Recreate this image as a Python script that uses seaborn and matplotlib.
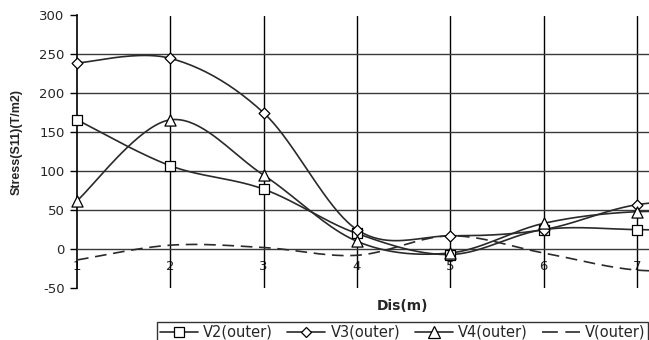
import numpy as np
import pandas as pd
import matplotlib
matplotlib.use("Agg")
import matplotlib.pyplot as plt
from matplotlib.lines import Line2D
import seaborn as sns

# Distance categories and stress series (T/m2)
dis = [1, 2, 3, 4, 5, 6, 7, 8]
v2_outer = [166, 107, 77, 20, -7, 25, 25, 22]
v3_outer = [239, 245, 175, 25, 17, 25, 57, 62]
v4_outer = [62, 166, 95, 10, -5, 33, 48, 44]
v_outer = [-14, 5, 2, -8, 17, -5, -27, -25]
series_names = ["V2(outer)", "V3(outer)", "V4(outer)", "V(outer)"]
y_ticks = [-50, 0, 50, 100, 150, 200, 250, 300]


def smooth_curve(xs, ys, n=40):
    """Catmull-Rom style Bezier smoothing (spreadsheet 'smoothed line')."""
    pts = np.column_stack([xs, ys]).astype(float)
    out = []
    m = len(pts)
    t = np.linspace(0, 1, n)[:, None]
    for i in range(m - 1):
        p0 = pts[max(i - 1, 0)]
        p1 = pts[i]
        p2 = pts[i + 1]
        p3 = pts[min(i + 2, m - 1)]
        c1 = p1 + (p2 - p0) / 6.0
        c2 = p2 - (p3 - p1) / 6.0
        seg = ((1 - t) ** 3) * p1 + 3 * ((1 - t) ** 2) * t * c1 \
            + 3 * (1 - t) * t ** 2 * c2 + t ** 3 * p2
        out.append(seg if i == 0 else seg[1:])
    arr = np.vstack(out)
    return arr[:, 0], arr[:, 1]


sns.set_style("white")
plt.rcParams["font.family"] = ["DejaVu Sans"]

fig = plt.figure(figsize=(6.49, 3.40), dpi=100)
ax = fig.add_axes([77 / 649, 52 / 340, 1 - 77 / 649, (340 - 15.5) / 340 - 52 / 340])

line_col = "#2a2a2a"
dash = (0, (7, 4))
styles = [
    (v2_outer, "s", 7.5, "-"),
    (v3_outer, "D", 5.5, "-"),
    (v4_outer, "^", 8, "-"),
    (v_outer, None, 0, dash),
]

for (vals, mk, ms, ls), name in zip(styles, series_names):
    sx, sy = smooth_curve(dis, vals)
    curve = pd.DataFrame({"x": sx, "y": sy})
    sns.lineplot(data=curve, x="x", y="y", ax=ax, sort=False, estimator=None,
                 color=line_col, linewidth=1.2, linestyle=ls, zorder=3)
    if mk is not None:
        pts = pd.DataFrame({"x": dis, "y": vals})
        sns.scatterplot(data=pts, x="x", y="y", ax=ax, marker=mk,
                        s=ms ** 2, color="white", edgecolor="black",
                        linewidth=0.9, zorder=4, clip_on=False)

ax.set_yticks(y_ticks)
ax.set_yticklabels([str(v) for v in y_ticks])
ax.set_xticks(dis)
ax.set_xticklabels([str(d) for d in dis])
ax.set_xlim(1, 7.13)
ax.set_ylim(-50, 300)

# Gridlines
for xv in dis[1:]:
    ax.axvline(xv, color="black", linewidth=1.0, zorder=1)
for yv in y_ticks[2:-1]:
    ax.axhline(yv, color="#3a3a3a", linewidth=1.0, zorder=1)
ax.axhline(300, color="#8a8a8a", linewidth=1.2, zorder=1)

# Axes: category axis crosses at zero
for s in ["top", "right"]:
    ax.spines[s].set_visible(False)
ax.spines["bottom"].set_position(("data", 0))
ax.spines["bottom"].set_color("#3a3a3a")
ax.spines["bottom"].set_linewidth(1.0)
ax.spines["left"].set_color("black")
ax.spines["left"].set_linewidth(1.2)
ax.tick_params(axis="y", direction="out", length=5, width=1, color="black",
               pad=4, labelsize=9.5, left=True)
ax.tick_params(axis="x", length=0, pad=8, labelsize=9.5)

ax.set_xlabel("")
ax.set_ylabel("")
fig.text(17 / 649, 1 - 142 / 340, "Stress(S11)(T/m2)", rotation=90,
         ha="center", va="center", fontsize=9, fontweight="bold",
         family=["Liberation Sans", "DejaVu Sans"])
fig.text(403 / 649, 1 - 306 / 340, "Dis(m)", ha="center", va="center",
         fontsize=10, fontweight="bold")

handles = [
    Line2D([], [], color=line_col, lw=1.2, marker="s", ms=7.5,
           mfc="white", mec="black", mew=0.9),
    Line2D([], [], color=line_col, lw=1.2, marker="D", ms=5.5,
           mfc="white", mec="black", mew=0.9),
    Line2D([], [], color=line_col, lw=1.2, marker="^", ms=8,
           mfc="white", mec="black", mew=0.9),
    Line2D([], [], color=line_col, lw=1.2, linestyle=(0, (9.5, 4.5))),
]
leg = fig.legend(handles, series_names, loc="upper left",
                 bbox_to_anchor=(157 / 649, (340 - 322) / 340), ncol=4,
                 frameon=True, fancybox=False, edgecolor="black",
                 fontsize=10.5, handlelength=2.6, handletextpad=0.35,
                 columnspacing=1.0, borderpad=0.2, borderaxespad=0)
leg.get_frame().set_linewidth(1.0)

fig.savefig("out.png", dpi=100)
